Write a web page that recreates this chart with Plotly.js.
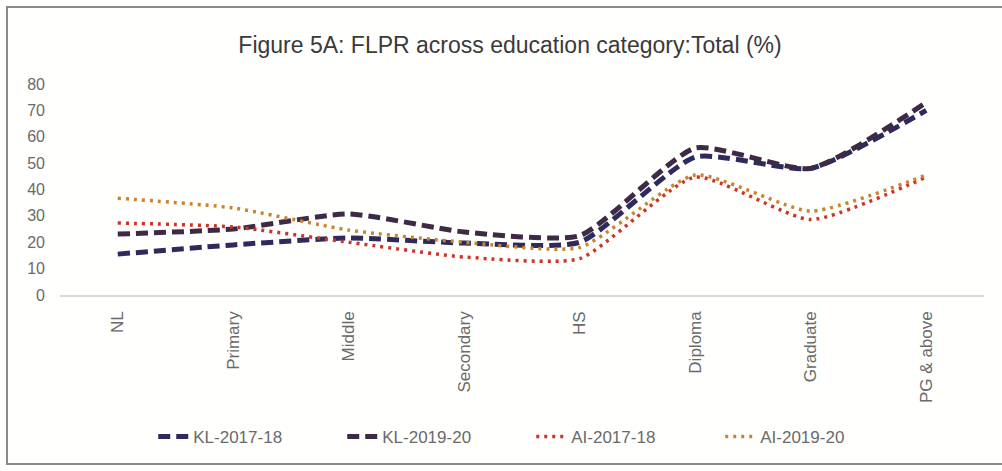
<!DOCTYPE html>
<html>
<head>
<meta charset="utf-8">
<script src="https://cdn.plot.ly/plotly-3.0.1.min.js"></script>
<style>
  html, body { margin: 0; padding: 0; background: #ffffff; }
  #wrap { position: relative; width: 1002px; height: 471px; }
  #chart { width: 1002px; height: 471px; }
  #frame { position: absolute; left: 6px; top: 6px; width: 1010px; height: 459px;
           border: 2px solid #8a8a8a; box-sizing: border-box; pointer-events: none; }
</style>
</head>
<body>
<div id="wrap">
  <div id="chart"></div>
  <div id="frame"></div>
</div>
<script>
const categories = ["NL", "Primary", "Middle", "Secondary", "HS", "Diploma", "Graduate", "PG & above"];
const kl2017 = [15.5, 19, 21.6, 19.7, 20, 52.3, 48, 70];
const kl2019 = [23.1, 25, 30.7, 23.9, 22.5, 55.7, 48, 73];
const ai2017 = [27.3, 25.8, 20, 14.4, 13.8, 44.7, 28.6, 44.7];
const ai2019 = [36.7, 33, 24.6, 20, 18, 45.5, 31.8, 45.5];
const seriesNames = ["KL-2017-18", "KL-2019-20", "AI-2017-18", "AI-2019-20"];

const traces = [
  { x: categories, y: kl2017, name: seriesNames[0], type: "scatter", mode: "lines",
    line: { color: "#2e2b5c", width: 5, dash: "12px,6px", shape: "spline", smoothing: 0.55 } },
  { x: categories, y: kl2019, name: seriesNames[1], type: "scatter", mode: "lines",
    line: { color: "#3e2a46", width: 5, dash: "12px,6px", shape: "spline", smoothing: 0.55 } },
  { x: categories, y: ai2017, name: seriesNames[2], type: "scatter", mode: "lines",
    line: { color: "#cc3329", width: 3.5, dash: "3px,5px", shape: "spline", smoothing: 0.55 } },
  { x: categories, y: ai2019, name: seriesNames[3], type: "scatter", mode: "lines",
    line: { color: "#c8842e", width: 3.5, dash: "3px,5px", shape: "spline", smoothing: 0.55 } }
];

const layout = {
  width: 1002, height: 471,
  paper_bgcolor: "#fffffd", plot_bgcolor: "#fffffd",
  margin: { l: 60, r: 18, t: 84, b: 176 },
  title: { text: "Figure 5A: FLPR across education category:Total (%)",
           font: { family: "Liberation Sans, Arial, sans-serif", size: 23, color: "#3a3a3a" },
           x: 0.509, xanchor: "center", y: 0.905, yanchor: "middle" },
  xaxis: { type: "category", tickangle: -90, showgrid: false, zeroline: false,
           showline: true, linecolor: "#d9d9d9", linewidth: 1.5, ticks: "",
           ticklabelstandoff: 8,
           tickfont: { family: "Liberation Sans, Arial, sans-serif", size: 17, color: "#6a6a6a" },
           range: [-0.5, 7.5] },
  yaxis: { range: [0, 80], dtick: 10, showgrid: false, zeroline: false, showline: false,
           ticks: "", ticklabelstandoff: 14,
           tickfont: { family: "Liberation Sans, Arial, sans-serif", size: 16, color: "#6a6a6a" } },
  showlegend: true,
  legend: { orientation: "h", x: 0.51, xanchor: "center", y: -0.673, yanchor: "middle",
            font: { family: "Liberation Sans, Arial, sans-serif", size: 17, color: "#6a6a6a" },
            entrywidth: 144, entrywidthmode: "pixels", bgcolor: "rgba(0,0,0,0)" }
};

Plotly.newPlot("chart", traces, layout, { displayModeBar: false, staticPlot: true });
</script>
</body>
</html>
